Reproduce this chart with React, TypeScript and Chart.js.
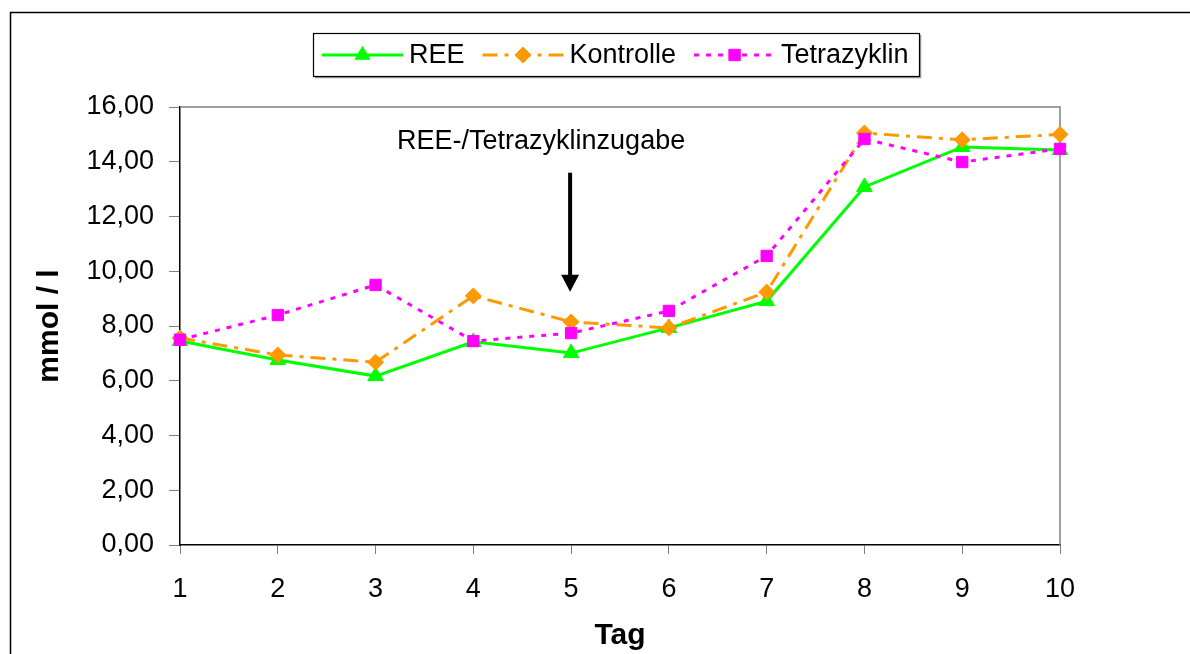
import React, { useEffect, useRef } from 'react';
import { Chart, registerables } from 'chart.js';

Chart.register(...registerables);

// ---------- data ----------
const days: string[] = ['1', '2', '3', '4', '5', '6', '7', '8', '9', '10'];
const reeValues: number[] = [7.45, 6.76, 6.17, 7.42, 7.01, 7.93, 8.91, 13.08, 14.54, 14.43];
const kontrolleValues: number[] = [7.56, 6.94, 6.68, 9.1, 8.15, 7.93, 9.24, 15.05, 14.8, 15.0];
const tetrazyklinValues: number[] = [7.5, 8.4, 9.5, 7.45, 7.74, 8.55, 10.56, 14.83, 13.99, 14.47];
const seriesNames: string[] = ['REE', 'Kontrolle', 'Tetrazyklin'];
const yMin = 0;
const yMax = 16;
const yStep = 2;
const xTitle = 'Tag';
const yTitle = 'mmol / l';
const annotationText = 'REE-/Tetrazyklinzugabe';
const arrowDayIndex = 4;
const arrowFromValue = 13.6;
const arrowToValue = 9.25;
const annotationTextValue = 14.73;

const FONT = "'Liberation Sans', Arial, Helvetica, sans-serif";

const GREEN = '#00FF00';
const ORANGE = '#FF9900';
const MAGENTA = '#FF00FF';

type Marker = 'triangle' | 'diamond' | 'square';

function drawMarker(ctx: CanvasRenderingContext2D, kind: Marker, x: number, y: number, color: string) {
  ctx.save();
  ctx.fillStyle = color;
  ctx.strokeStyle = color;
  ctx.lineWidth = 1;
  ctx.setLineDash([]);
  ctx.beginPath();
  if (kind === 'triangle') {
    const r = 8.5;
    const s = Math.sin((2 * Math.PI) / 3) * r;
    ctx.moveTo(x, y - r);
    ctx.lineTo(x + s, y + r / 2);
    ctx.lineTo(x - s, y + r / 2);
  } else if (kind === 'diamond') {
    const r = 8;
    ctx.moveTo(x, y - r);
    ctx.lineTo(x + r, y);
    ctx.lineTo(x, y + r);
    ctx.lineTo(x - r, y);
  } else {
    const h = 5.7;
    ctx.rect(x - h, y - h, 2 * h, 2 * h);
  }
  ctx.closePath();
  ctx.fill();
  ctx.stroke();
  ctx.restore();
}

const legendMarkers: Marker[] = ['triangle', 'diamond', 'square'];

const decorPlugin = {
  id: 'decor',
  beforeDraw(chart: any) {
    const ctx: CanvasRenderingContext2D = chart.ctx;
    ctx.save();
    ctx.strokeStyle = '#000';
    ctx.lineWidth = 1.5;
    ctx.strokeRect(10.5, 12.5, 1400, 900);
    ctx.restore();
  },
  beforeDatasetsDraw(chart: any) {
    const ctx: CanvasRenderingContext2D = chart.ctx;
    const a = chart.chartArea;
    ctx.save();
    ctx.strokeStyle = '#808080';
    ctx.lineWidth = 1.5;
    ctx.beginPath();
    ctx.moveTo(a.left, a.top);
    ctx.lineTo(a.right, a.top);
    ctx.lineTo(a.right, a.bottom);
    ctx.stroke();
    ctx.restore();
  },
  afterDraw(chart: any) {
    const ctx: CanvasRenderingContext2D = chart.ctx;
    const xs = chart.scales.x;
    const ys = chart.scales.y;

    // ----- legend -----
    const boxL = 313, boxT = 33, boxW = 606, boxH = 43;
    ctx.save();
    ctx.strokeStyle = '#999';
    ctx.lineWidth = 1.5;
    ctx.beginPath();
    ctx.moveTo(boxL + 2, boxT + boxH + 1.5);
    ctx.lineTo(boxL + boxW + 1.5, boxT + boxH + 1.5);
    ctx.lineTo(boxL + boxW + 1.5, boxT + 2);
    ctx.stroke();
    ctx.strokeStyle = '#000';
    ctx.lineWidth = 1.2;
    ctx.strokeRect(boxL + 0.5, boxT + 0.5, boxW, boxH);

    ctx.font = `27px ${FONT}`;
    ctx.textBaseline = 'middle';
    ctx.textAlign = 'left';
    let x = 322;
    const y = boxT + boxH / 2 + 0.5;
    chart.data.datasets.forEach((ds: any, i: number) => {
      ctx.save();
      ctx.strokeStyle = ds.borderColor;
      ctx.lineWidth = 3;
      ctx.setLineDash(ds.borderDash || []);
      ctx.beginPath();
      ctx.moveTo(x, y);
      ctx.lineTo(x + 81, y);
      ctx.stroke();
      ctx.restore();
      drawMarker(ctx, legendMarkers[i], x + 40.5, y, ds.borderColor);
      ctx.fillStyle = '#000';
      ctx.fillText(ds.label, x + 87, y + 1);
      x += 87 + ctx.measureText(ds.label).width + 18;
    });
    ctx.restore();

    // ----- annotation -----
    const ax = xs.getPixelForValue(arrowDayIndex);
    const yTop = ys.getPixelForValue(arrowFromValue);
    const yTip = ys.getPixelForValue(arrowToValue);
    ctx.save();
    ctx.fillStyle = '#000';
    ctx.font = `27px ${FONT}`;
    ctx.textAlign = 'center';
    ctx.textBaseline = 'middle';
    ctx.fillText(annotationText, ax - 30, ys.getPixelForValue(annotationTextValue));
    ctx.strokeStyle = '#000';
    ctx.lineWidth = 4;
    ctx.beginPath();
    ctx.moveTo(ax - 1, yTop);
    ctx.lineTo(ax - 1, yTip - 14);
    ctx.stroke();
    ctx.beginPath();
    ctx.moveTo(ax - 10, yTip - 17);
    ctx.lineTo(ax + 8, yTip - 17);
    ctx.lineTo(ax - 1, yTip);
    ctx.closePath();
    ctx.fill();
    ctx.restore();
  },
};

export default function App() {
  const canvasRef = useRef<HTMLCanvasElement | null>(null);

  useEffect(() => {
    if (!canvasRef.current) return;
    const chart = new Chart(canvasRef.current, {
      type: 'line',
      data: {
        labels: days,
        datasets: [
          {
            label: seriesNames[0],
            data: reeValues,
            borderColor: GREEN,
            backgroundColor: GREEN,
            borderWidth: 3,
            pointStyle: 'triangle',
            pointRadius: 9,
            pointBorderWidth: 1,
            tension: 0,
            fill: false,
            order: 3,
          },
          {
            label: seriesNames[1],
            data: kontrolleValues,
            borderColor: ORANGE,
            backgroundColor: ORANGE,
            borderWidth: 3,
            borderDash: [15, 7, 4, 7],
            pointStyle: 'rectRot',
            pointRadius: 8,
            pointBorderWidth: 1,
            tension: 0,
            fill: false,
            order: 2,
          },
          {
            label: seriesNames[2],
            data: tetrazyklinValues,
            borderColor: MAGENTA,
            backgroundColor: MAGENTA,
            borderWidth: 3,
            borderDash: [5, 7],
            pointStyle: 'rect',
            pointRadius: 8,
            pointBorderWidth: 1,
            tension: 0,
            fill: false,
            order: 1,
          },
        ],
      },
      options: {
        responsive: false,
        animation: false,
        events: [],
        layout: { padding: { top: 107, right: 130, left: 0, bottom: 0 } },
        plugins: {
          legend: { display: false },
          tooltip: { enabled: false },
        },
        scales: {
          x: {
            type: 'category',
            offset: false,
            grid: { drawOnChartArea: false, drawTicks: true, tickLength: 9, color: '#808080', lineWidth: 1 },
            border: { color: '#000', width: 1.5 },
            ticks: {
              color: '#000',
              font: { family: FONT, size: 27 },
              padding: 19,
              maxRotation: 0,
              autoSkip: false,
            },
            title: {
              display: true,
              text: xTitle,
              color: '#000',
              font: { family: FONT, size: 30, weight: 'bold' },
              padding: { top: 0, bottom: 0 },
            },
            afterFit(scale: any) {
              scale.height = 109;
            },
          },
          y: {
            min: yMin,
            max: yMax,
            grid: { drawOnChartArea: false, drawTicks: true, tickLength: 11, color: '#808080', lineWidth: 1 },
            border: { color: '#000', width: 1.5 },
            ticks: {
              stepSize: yStep,
              color: '#000',
              font: { family: FONT, size: 27 },
              padding: 15,
              callback: (v: any) => Number(v).toFixed(2).replace('.', ','),
            },
            title: {
              display: true,
              text: yTitle,
              color: '#000',
              font: { family: FONT, size: 30, weight: 'bold' },
              padding: { top: 32, bottom: 0 },
            },
            afterFit(scale: any) {
              scale.width = 180;
            },
          },
        },
      } as any,
      plugins: [decorPlugin],
    });
    return () => chart.destroy();
  }, []);

  return (
    <div style={{ position: 'absolute', left: 0, top: 0, width: 1190, height: 654, overflow: 'hidden', background: '#fff' }}>
      <canvas ref={canvasRef} width={1190} height={654} style={{ width: 1190, height: 654, display: 'block' }} />
    </div>
  );
}
